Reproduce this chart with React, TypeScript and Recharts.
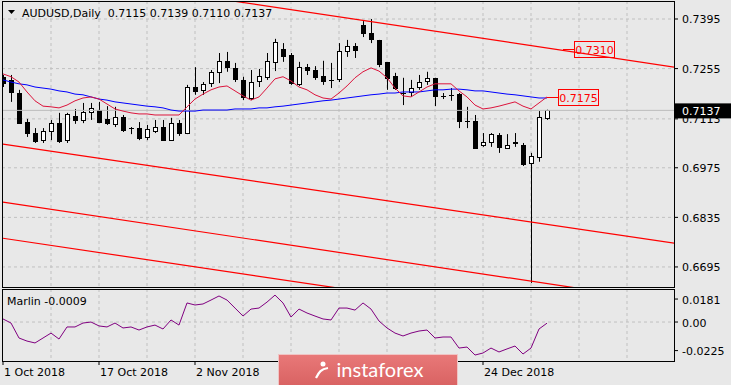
import React from "react";
import {
  ComposedChart,
  Bar,
  Line,
  XAxis,
  YAxis,
  CartesianGrid,
  ReferenceLine,
  ReferenceDot,
} from "recharts";

// AUDUSD daily candles, bar 0 = 1 Oct 2018
const open = [
  0.7229, 0.722, 0.7186, 0.7104, 0.7073, 0.7051, 0.7079, 0.7101, 0.7051, 0.7121,
  0.7107, 0.713, 0.7138, 0.711, 0.7099, 0.7116, 0.7085, 0.7087, 0.7059, 0.7079,
  0.709, 0.7053, 0.7101, 0.7073, 0.7203, 0.7192, 0.7212, 0.7243, 0.7274, 0.7254,
  0.722, 0.7172, 0.7217, 0.7229, 0.7274, 0.731, 0.7291, 0.7212, 0.7259, 0.7251,
  0.7232, 0.7221, 0.7223, 0.7302, 0.7316, 0.7378, 0.7355, 0.7333, 0.7271, 0.7234,
  0.7184, 0.7189, 0.7203, 0.7217, 0.7226, 0.7176, 0.7178, 0.7181, 0.7105, 0.7107,
  0.7037, 0.7045, 0.7065, 0.7031, 0.7045, 0.7037, 0.6986, 0.7003, 0.7115,
];
const high = [
  0.7237, 0.7237, 0.7195, 0.7113, 0.7087, 0.7087, 0.711, 0.713, 0.713, 0.7141,
  0.7158, 0.7158, 0.7161, 0.7149, 0.7147, 0.7124, 0.709, 0.7104, 0.7096, 0.711,
  0.711, 0.7116, 0.711, 0.7209, 0.7259, 0.7217, 0.7251, 0.7299, 0.7302, 0.7271,
  0.7232, 0.7251, 0.7254, 0.7299, 0.7339, 0.7327, 0.7299, 0.7274, 0.7268, 0.7262,
  0.7277, 0.7271, 0.7327, 0.7336, 0.7327, 0.7389, 0.7395, 0.7336, 0.7271, 0.7243,
  0.7229, 0.7223, 0.7237, 0.7246, 0.7229, 0.7186, 0.72, 0.7186, 0.7147, 0.7124,
  0.7073, 0.7073, 0.7073, 0.707, 0.7073, 0.7045, 0.7017, 0.7135, 0.7139,
];
const low = [
  0.7203, 0.7161, 0.7099, 0.7062, 0.7045, 0.7045, 0.7053, 0.7045, 0.7045, 0.7099,
  0.7101, 0.711, 0.7101, 0.7096, 0.709, 0.7076, 0.707, 0.7053, 0.7053, 0.7073,
  0.7051, 0.7051, 0.7065, 0.707, 0.7181, 0.7181, 0.7203, 0.7214, 0.7246, 0.7217,
  0.7166, 0.7166, 0.7203, 0.7223, 0.7248, 0.7274, 0.7209, 0.7206, 0.7237, 0.7223,
  0.7209, 0.72, 0.7217, 0.7288, 0.7285, 0.7344, 0.7327, 0.7259, 0.7195, 0.7195,
  0.7152, 0.7175, 0.7195, 0.7209, 0.7149, 0.7169, 0.7164, 0.7087, 0.7087, 0.7029,
  0.7034, 0.7034, 0.7017, 0.7028, 0.7034, 0.698, 0.665, 0.6992, 0.711,
];
const close = [
  0.7212, 0.7186, 0.7101, 0.7073, 0.7051, 0.7076, 0.7101, 0.7051, 0.7124, 0.711,
  0.713, 0.7141, 0.7104, 0.7099, 0.7118, 0.7079, 0.7084, 0.7059, 0.7082, 0.709,
  0.7053, 0.7101, 0.7073, 0.7203, 0.7192, 0.7209, 0.7243, 0.7274, 0.7257, 0.7223,
  0.7172, 0.7217, 0.7232, 0.7274, 0.733, 0.7291, 0.7212, 0.7259, 0.7251, 0.7232,
  0.7217, 0.722, 0.7302, 0.7316, 0.7305, 0.7355, 0.7339, 0.7265, 0.7226, 0.72,
  0.7183, 0.72, 0.7217, 0.7226, 0.7175, 0.7175, 0.7177, 0.7104, 0.7104, 0.7031,
  0.7045, 0.7068, 0.7031, 0.7039, 0.7042, 0.6983, 0.7006, 0.7116, 0.7137,
];
// moving averages (blue = slow, crimson = fast)
const maBlue = [
  0.7223, 0.7217, 0.7212, 0.7209, 0.7203, 0.72, 0.7197, 0.7192, 0.7189, 0.7183,
  0.7181, 0.7175, 0.7169, 0.7166, 0.7161, 0.7158, 0.7155, 0.7152, 0.7149, 0.7147,
  0.7144, 0.7138, 0.7135, 0.7135, 0.7135, 0.7138, 0.7138, 0.7138, 0.7138, 0.7141,
  0.7141, 0.7141, 0.7144, 0.7144, 0.7147, 0.7149, 0.7152, 0.7155, 0.7158, 0.7161,
  0.7164, 0.7166, 0.7169, 0.7172, 0.7175, 0.7178, 0.7181, 0.7183, 0.7186, 0.7186,
  0.7189, 0.7189, 0.7189, 0.7192, 0.7195, 0.7195, 0.7197, 0.7197, 0.7195, 0.7192,
  0.7192, 0.7189, 0.7186, 0.7183, 0.7181, 0.7178, 0.7175, 0.7172, 0.7172,
];
const maRed = [
  0.724, 0.7232, 0.7217, 0.7189, 0.7164, 0.7149, 0.7147, 0.7144, 0.7152, 0.7164,
  0.7172, 0.7175, 0.7169, 0.7155, 0.7141, 0.7135, 0.713, 0.7127, 0.7127, 0.7124,
  0.7124, 0.7124, 0.7124, 0.7147, 0.7169, 0.7183, 0.7195, 0.7203, 0.7206, 0.7192,
  0.7178, 0.7166, 0.7175, 0.72, 0.7226, 0.7232, 0.722, 0.7203, 0.7195, 0.7181,
  0.7172, 0.7169, 0.7186, 0.7206, 0.7229, 0.7246, 0.7257, 0.7248, 0.7229, 0.72,
  0.7178, 0.7175, 0.7189, 0.7203, 0.7212, 0.7212, 0.7212, 0.7192, 0.7175, 0.7152,
  0.7141, 0.7144, 0.7149, 0.7155, 0.7161, 0.7149, 0.7141, 0.7158, 0.7175,
];
const marlin = [
  0.0024, -0.0008, -0.0126, -0.015, -0.0165, -0.0126, -0.0087, -0.0134, -0.0039, -0.0039,
  -0.0008, 0.0, -0.0031, -0.0039, -0.0008, -0.0047, -0.0039, -0.0063, -0.0039, -0.0024,
  -0.0055, 0.0016, -0.0024, 0.015, 0.0134, 0.0142, 0.0173, 0.0205, 0.0173, 0.011,
  0.0047, 0.0102, 0.011, 0.0157, 0.0212, 0.015, 0.0039, 0.0102, 0.0071, 0.0047,
  0.0024, 0.0016, 0.011, 0.011, 0.0094, 0.015, 0.0102, 0.0008, -0.0047, -0.0087,
  -0.011, -0.0087, -0.0071, -0.0063, -0.0126, -0.0118, -0.0118, -0.0205, -0.0197, -0.026,
  -0.0244, -0.0205, -0.0236, -0.0212, -0.0189, -0.0252, -0.0205, -0.0055, -0.0009,
];

// date labels visible in the reference (the ones behind the logo are left out)
const dateTicks = [0, 12, 24, 60];
const dateLabels = ["1 Oct 2018", "17 Oct 2018", "2 Nov 2018", "24 Dec 2018"];
const gridBars = [6, 12, 18, 24, 30, 36, 42, 48, 54, 60, 66, 72, 78];
const priceTicks = [0.7395, 0.7255, 0.7113, 0.6975, 0.6835, 0.6695];
const marlinTicks = [0.0181, 0, -0.0225];
const bidPrice = 0.7137;

// channel trend lines, anchors as [bar, price]
const channel = [
  { from: [0, 0.7543], to: [84, 0.7259] },
  { from: [0, 0.7042], to: [84, 0.6762] },
  { from: [0, 0.6878], to: [84, 0.6594] },
  { from: [0, 0.6776], to: [84, 0.6494] },
];
const levelTags = [
  { bar: 68, price: 0.7175 },
  { bar: 70, price: 0.731 },
];

const FONT = '"DejaVu Sans", sans-serif';
const BG = "#e8e8e8";
const GRID = "#c0c0c0";
const xDomain = [-0.125, 83.875];

const rows = open.map((o, i) => ({
  i,
  open: o,
  high: high[i],
  low: low[i],
  close: close[i],
  maBlue: maBlue[i],
  maRed: maRed[i],
  marlin: marlin[i],
}));

function Candle(props: any) {
  const { x, y, width, height, payload } = props;
  if (height == null || !payload) return null;
  const { open: o, high: h, low: l, close: c } = payload;
  const k = height / (h - l);
  const py = (p: number) => y + (h - p) * k;
  const cx = Math.round(x + width / 2) + 0.5;
  const top = py(Math.max(o, c));
  const bot = py(Math.min(o, c));
  const bull = c >= o;
  const bodyH = Math.round(bot - top);
  return (
    <g>
      <line x1={cx} x2={cx} y1={y} y2={y + height} stroke="#000" strokeWidth={1} />
      {bodyH < 1 ? (
        <line x1={cx - 2.5} x2={cx + 2.5} y1={Math.floor(top) + 0.5} y2={Math.floor(top) + 0.5} stroke="#000" />
      ) : (
        <rect
          x={cx - 2}
          y={Math.floor(top) + 0.5}
          width={4}
          height={bodyH}
          fill={bull ? "#fff" : "#000"}
          stroke="#000"
          strokeWidth={1}
        />
      )}
    </g>
  );
}

function PriceTick(props: any) {
  const { x, y, payload } = props;
  const v = payload.value as number;
  if (v === bidPrice) {
    return (
      <g>
        <rect x={x - 7} y={y - 7} width={57} height={15} fill="#000" />
        <text x={x} y={y + 4.5} fill="#fff" fontSize={11} fontFamily={FONT}>
          {v.toFixed(4)}
        </text>
      </g>
    );
  }
  return (
    <text x={x} y={y + 4.5} fill="#000" fontSize={11} fontFamily={FONT}>
      {v.toFixed(4)}
    </text>
  );
}

function MarlinTick(props: any) {
  const { x, y, payload } = props;
  const v = payload.value as number;
  return (
    <text x={x} y={y + 4.5} fill="#000" fontSize={11} fontFamily={FONT}>
      {v === 0 ? "0.00" : v.toFixed(4)}
    </text>
  );
}

function DateTick(props: any) {
  const { x, y, payload } = props;
  const idx = dateTicks.indexOf(payload.value);
  return (
    <text x={x + 1} y={y + 9} fill="#000" fontSize={11} fontFamily={FONT} textAnchor="start">
      {dateLabels[idx] ?? ""}
    </text>
  );
}

function LevelTag(props: any) {
  const { cx, cy, label } = props;
  const bx = Math.round(cx) + 11;
  const yy = Math.round(cy);
  return (
    <g>
      <line x1={cx} x2={bx} y1={yy + 0.5} y2={yy + 0.5} stroke="#ff0000" />
      <rect x={bx + 0.5} y={yy - 7.5} width={40} height={16} fill="none" stroke="#ff0000" />
      <text x={bx + 20.5} y={yy + 4.5} textAnchor="middle" fill="#ff0000" fontSize={11} fontFamily={FONT}>
        {label}
      </text>
    </g>
  );
}

export default function App() {
  const last = rows.length - 1;
  const header = `${open[last].toFixed(4)} ${high[last].toFixed(4)} ${low[last].toFixed(4)} ${close[last].toFixed(4)}`;
  return (
    <div
      style={{
        position: "absolute",
        left: 0,
        top: 0,
        width: 731,
        height: 385,
        background: BG,
        overflow: "hidden",
        fontFamily: FONT,
      }}
    >
      <div style={{ position: "absolute", left: 0, top: 0 }}>
        <ComposedChart width={731} height={288} data={rows} margin={{ top: 1, right: 0, bottom: 1, left: 2 }}>
          <CartesianGrid stroke={GRID} strokeDasharray="3 3" horizontalValues={priceTicks} verticalValues={gridBars} />
          <XAxis dataKey="i" type="number" domain={xDomain} allowDataOverflow hide />
          <YAxis
            orientation="right"
            type="number"
            width={57}
            domain={[0.66384, 0.74458]}
            allowDataOverflow
            ticks={[...priceTicks, bidPrice]}
            interval={0}
            axisLine={false}
            tickLine={{ stroke: "#000" }}
            tickSize={4}
            tickMargin={4}
            tick={(p: any) => <PriceTick {...p} />}
          />
          <ReferenceLine y={bidPrice} stroke="#bcbcbc" />
          {channel.map((c, k) => (
            <ReferenceLine
              key={k}
              segment={[
                { x: c.from[0], y: c.from[1] },
                { x: c.to[0], y: c.to[1] },
              ]}
              stroke="#ff0000"
              strokeWidth={1.2}
              ifOverflow="hidden"
            />
          ))}
          <Line dataKey="maBlue" stroke="#0000ff" strokeWidth={1} dot={false} isAnimationActive={false} />
          <Line dataKey="maRed" stroke="#dc143c" strokeWidth={1} dot={false} isAnimationActive={false} />
          <Bar
            dataKey={(d: any) => [d.low, d.high]}
            barSize={6}
            shape={(p: any) => <Candle {...p} />}
            isAnimationActive={false}
          />
          {levelTags.map((t, k) => (
            <ReferenceDot
              key={k}
              x={t.bar}
              y={t.price}
              r={0}
              ifOverflow="visible"
              shape={(p: any) => <LevelTag {...p} label={t.price.toFixed(4)} />}
            />
          ))}
        </ComposedChart>
      </div>

      <div style={{ position: "absolute", left: 0, top: 288 }}>
        <ComposedChart width={731} height={97} data={rows} margin={{ top: 1, right: 0, bottom: 0, left: 2 }}>
          <CartesianGrid stroke={GRID} strokeDasharray="3 3" horizontalValues={[0]} verticalValues={gridBars} />
          <XAxis
            dataKey="i"
            type="number"
            domain={xDomain}
            allowDataOverflow
            ticks={dateTicks}
            interval={0}
            height={24}
            axisLine={false}
            tickLine={{ stroke: "#000" }}
            tickSize={4}
            tickMargin={2}
            tick={(p: any) => <DateTick {...p} />}
          />
          <YAxis
            orientation="right"
            type="number"
            width={57}
            domain={[-0.0307, 0.026]}
            allowDataOverflow
            ticks={marlinTicks}
            interval={0}
            axisLine={false}
            tickLine={{ stroke: "#000" }}
            tickSize={4}
            tickMargin={4}
            tick={(p: any) => <MarlinTick {...p} />}
          />
          <Line dataKey="marlin" stroke="#800080" strokeWidth={1} dot={false} isAnimationActive={false} />
        </ComposedChart>
      </div>

      <svg width={731} height={385} style={{ position: "absolute", left: 0, top: 0, pointerEvents: "none" }}>
        <rect x={2.5} y={1.5} width={672} height={286} fill="none" stroke="#000" />
        <rect x={2.5} y={289.5} width={672} height={72} fill="none" stroke="#000" />
        <polygon points="8,10 15,10 11.5,14" fill="#000" />
        <text x={22} y={16.5} fontSize={11} fontFamily={FONT} fill="#000" style={{ whiteSpace: "pre" }}>
          {`AUDUSD,Daily  ${header}`}
        </text>
        <text x={7} y={305} fontSize={11} fontFamily={FONT} fill="#000" style={{ whiteSpace: "pre" }}>
          {`Marlin ${marlin[last].toFixed(4)}`}
        </text>
      </svg>

      <div
        style={{
          position: "absolute",
          left: 278,
          top: 354,
          width: 180,
          height: 32,
          boxSizing: "border-box",
          border: "1px solid #f0c4c4",
          background: "linear-gradient(#e87878, #d96363)",
          display: "flex",
          alignItems: "center",
          justifyContent: "center",
          color: "#fff",
          fontFamily: 'Lato, "Open Sans", sans-serif',
          fontSize: 20,
          gap: 6,
        }}
      >
        <svg width={18} height={20} viewBox="0 0 18 20">
          <circle cx={10} cy={4} r={2.5} fill="#fff" />
          <path d="M3 18 C6 12, 8 9, 15 8" stroke="#fff" strokeWidth={2.2} fill="none" />
        </svg>
        <span style={{ marginTop: -2 }}>instaforex</span>
      </div>
    </div>
  );
}
